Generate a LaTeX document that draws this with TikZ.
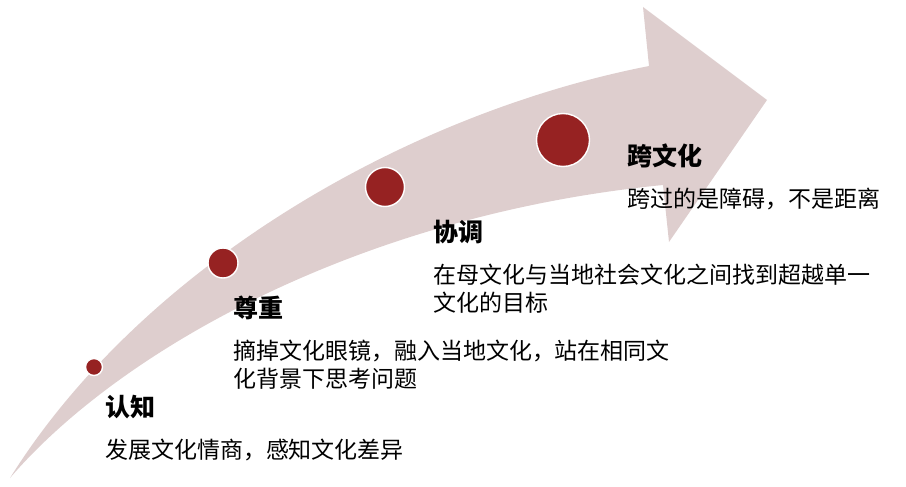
\documentclass[tikz,border=0pt]{standalone}
\usepackage{fontspec}
\setmainfont{Noto Sans CJK SC}
\definecolor{arrowfill}{RGB}{222,206,206}
\definecolor{dotred}{RGB}{150,34,34}
\tikzstyle{every node}=[inner sep=0, outer sep=0, anchor=base west, align=left]
\tikzstyle{title}=[font=\fontsize{25}{30}\selectfont\bfseries]
\tikzstyle{body}=[font=\fontsize{23}{27.5}\selectfont]
\tikzstyle{dot}=[fill=dotred, draw=white, line width=1.4pt]

\begin{document}
\begin{tikzpicture}[x=1pt, y=-1pt]
    \useasboundingbox (0, 0) rectangle (906, 487);
    % arrow
    \fill[arrowfill] (10, 478) .. controls (140, 270) and (400, 115) .. (649, 66)
        -- (643, 7) -- (767, 100) -- (669, 242) -- (663, 185)
        .. controls (360, 215) and (120, 350) .. (10, 478) -- cycle;
    % dots
    \draw[dot] (94, 367) circle (8.5);
    \draw[dot] (223, 263) circle (15);
    \draw[dot] (385, 187) circle (19.5);
    \draw[dot] (563, 140) circle (26.5);
    % labels (base of a two-line node is its last line)
    \node[title] (renzhi) at (105, 416.5) {认知};
    \node[body] (renzhitxt) at (105, 458.7) {发展文化情商，感知文化差异};
    \node[title] (zunzhong) at (233, 317.5) {尊重};
    \node[body] (zunzhongtxt) at (233, 387.2) {摘掉文化眼镜，融入当地文化，站在相同文\\化背景下思考问题};
    \node[title] (xietiao) at (433, 241.5) {协调};
    \node[body] (xietiaotxt) at (433, 311.2) {在母文化与当地社会文化之间找到超越单一\\文化的目标};
    \node[title] (kuawenhua) at (627, 165.5) {跨文化};
    \node[body] (kuawenhuatxt) at (627, 207.7) {跨过的是障碍，不是距离};
\end{tikzpicture}
\end{document}
